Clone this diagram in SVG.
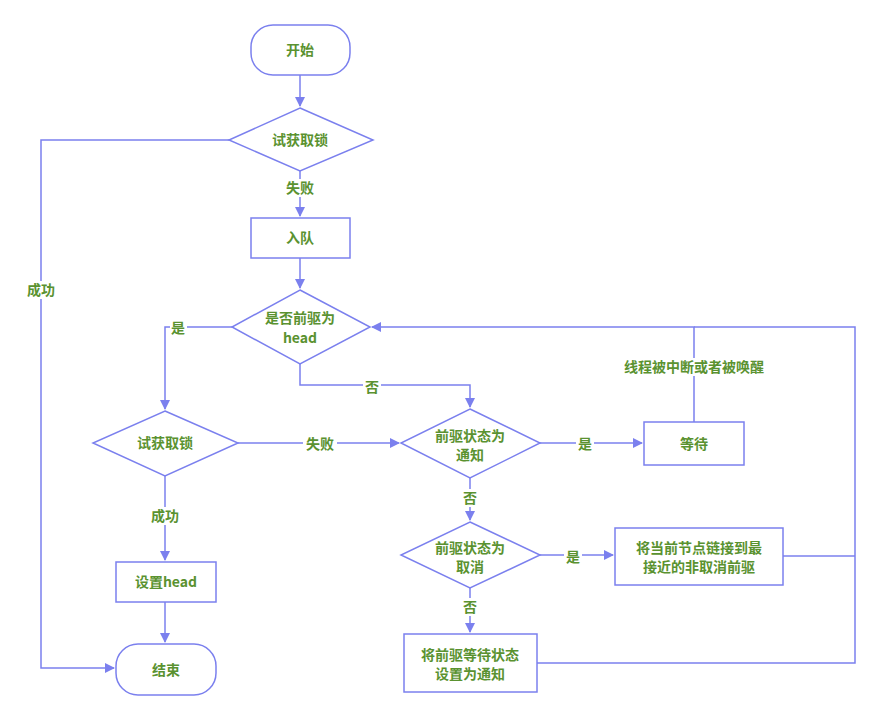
<svg xmlns="http://www.w3.org/2000/svg" width="879" height="719" viewBox="0 0 879 719">
<defs>
<marker id="ah" markerWidth="10" markerHeight="10" refX="9" refY="5" orient="auto" markerUnits="userSpaceOnUse">
<path d="M0,0 L10,5 L0,10 Z" fill="#7b80ee"/>
</marker>
<style>
.s{fill:#fff;stroke:#7b80ee;stroke-width:1.5}
.c{fill:none;stroke:#7b80ee;stroke-width:1.5}
.t{font-family:"Noto Sans CJK SC","Liberation Sans",sans-serif;font-size:14px;font-weight:bold;fill:#5a9230;text-anchor:middle;dominant-baseline:central}
.bg{fill:#fff}
</style>
</defs>
<rect width="879" height="719" fill="#fff"/>
<g id="connectors">
<path class="c" d="M300,75 V106" marker-end="url(#ah)"/>
<path class="c" d="M300,171 V216" marker-end="url(#ah)"/>
<path class="c" d="M300,258 V288" marker-end="url(#ah)"/>
<path class="c" d="M229,140 H41 V668 H114" marker-end="url(#ah)"/>
<path class="c" d="M232,327 H165 V409" marker-end="url(#ah)"/>
<path class="c" d="M238,443 H399" marker-end="url(#ah)"/>
<path class="c" d="M300,364 V385 H470 V407" marker-end="url(#ah)"/>
<path class="c" d="M540,443 H642" marker-end="url(#ah)"/>
<path class="c" d="M694,422 V327 H372" marker-end="url(#ah)"/>
<path class="c" d="M694,327 H855 V663 H537"/>
<path class="c" d="M783,556 H855"/>
<path class="c" d="M470,478 V520" marker-end="url(#ah)"/>
<path class="c" d="M540,555 H613" marker-end="url(#ah)"/>
<path class="c" d="M470,588 V632" marker-end="url(#ah)"/>
<path class="c" d="M165,476 V560" marker-end="url(#ah)"/>
<path class="c" d="M165,602 V642" marker-end="url(#ah)"/>
<rect class="bg" x="284" y="179" width="32" height="18"/>
<text class="t" x="300" y="187">失败</text>
<rect class="bg" x="24" y="281" width="34" height="18"/>
<text class="t" x="41" y="289">成功</text>
<rect class="bg" x="170" y="319" width="17" height="18"/>
<text class="t" x="178" y="327">是</text>
<rect class="bg" x="363" y="378" width="18" height="18"/>
<text class="t" x="372" y="386">否</text>
<rect class="bg" x="303" y="435" width="34" height="18"/>
<text class="t" x="320" y="443">失败</text>
<rect class="bg" x="576" y="435" width="18" height="18"/>
<text class="t" x="585" y="443">是</text>
<rect class="bg" x="618" y="358" width="152" height="18"/>
<text class="t" x="694" y="366">线程被中断或者被唤醒</text>
<rect class="bg" x="461" y="489" width="18" height="18"/>
<text class="t" x="470" y="497">否</text>
<rect class="bg" x="564" y="548" width="18" height="18"/>
<text class="t" x="573" y="556">是</text>
<rect class="bg" x="461" y="598" width="18" height="18"/>
<text class="t" x="470" y="606">否</text>
<rect class="bg" x="148" y="507" width="34" height="18"/>
<text class="t" x="165" y="515">成功</text>
</g>
<g id="start">
<rect class="s" x="251" y="25" width="99" height="50" rx="22"/>
<text class="t" x="300" y="49">开始</text>
</g>
<g id="try1">
<path class="s" d="M300,108 L373,140 L300,171 L229,140 Z"/>
<text class="t" x="300" y="139">试获取锁</text>
</g>
<g id="enqueue">
<rect class="s" x="251" y="218" width="99" height="40"/>
<text class="t" x="300" y="237">入队</text>
</g>
<g id="isHead">
<path class="s" d="M300,290 L370,327 L300,364 L232,327 Z"/>
<text class="t" x="300" y="317">是否前驱为</text>
<text class="t" x="300" y="337">head</text>
</g>
<g id="try2">
<path class="s" d="M165,411 L238,443 L165,476 L93,443 Z"/>
<text class="t" x="165" y="442">试获取锁</text>
</g>
<g id="isSignal">
<path class="s" d="M470,409 L540,443 L470,478 L401,443 Z"/>
<text class="t" x="470" y="435">前驱状态为</text>
<text class="t" x="470" y="454">通知</text>
</g>
<g id="wait">
<rect class="s" x="644" y="422" width="100" height="43"/>
<text class="t" x="694" y="443">等待</text>
</g>
<g id="isCancel">
<path class="s" d="M470,522 L540,555 L470,588 L401,555 Z"/>
<text class="t" x="470" y="547">前驱状态为</text>
<text class="t" x="470" y="566">取消</text>
</g>
<g id="link">
<rect class="s" x="615" y="528" width="168" height="57"/>
<text class="t" x="699" y="547">将当前节点链接到最</text>
<text class="t" x="699" y="566">接近的非取消前驱</text>
</g>
<g id="setSignal">
<rect class="s" x="404" y="634" width="133" height="58"/>
<text class="t" x="470" y="654">将前驱等待状态</text>
<text class="t" x="470" y="673">设置为通知</text>
</g>
<g id="setHead">
<rect class="s" x="116" y="562" width="100" height="40"/>
<text class="t" x="166" y="581">设置head</text>
</g>
<g id="end">
<rect class="s" x="116" y="644" width="100" height="51" rx="22"/>
<text class="t" x="166" y="669">结束</text>
</g>
</svg>
